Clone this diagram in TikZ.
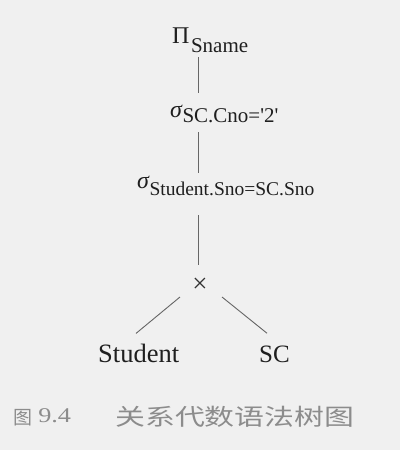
\documentclass[tikz,border=0pt]{standalone}
\usepackage{fontspec}
\setmainfont{Liberation Serif}
\newfontfamily\cjk{Noto Sans CJK SC}
\begin{document}
\begin{tikzpicture}[x=1pt,y=-1pt,
  lbl/.style={inner sep=0pt,anchor=base west,text=black!88},
  captxt/.style={inner sep=0pt,anchor=base west,text=black!45},
  conn/.style={draw=black!60,line width=0.9pt}]
\fill[black!6] (0,0) rectangle (400,450);
\useasboundingbox (0,0) rectangle (400,450);
% nodes
\node[lbl] (pi) at (172,43) {\fontsize{24}{24}\selectfont Π\kern1.5pt\raisebox{-9pt}{\fontsize{21}{21}\selectfont Sname}};
\node[lbl] (s1) at (170,117) {\fontsize{24}{24}\selectfont\itshape σ\upshape\kern0.5pt\raisebox{-5pt}{\fontsize{21}{21}\selectfont SC.Cno=\textquotesingle 2\textquotesingle}};
\node[lbl] (s2) at (137,188) {\fontsize{24}{24}\selectfont\itshape σ\upshape\kern0.5pt\raisebox{-7pt}{\fontsize{19.5}{19.5}\selectfont Student.Sno=SC.Sno}};
\node[inner sep=0pt,text=black!80] (x) at (200,285) {\fontsize{27}{27}\selectfont ×};
\node[lbl] (st) at (98,362) {\fontsize{26.5}{26.5}\selectfont Student};
\node[lbl] (sc) at (259,362) {\fontsize{25}{25}\selectfont SC};
% caption
\node[captxt] (c1) at (13,424) {\cjk\fontsize{19}{19}\selectfont 图};
\node[captxt,xscale=1.25] (c2) at (38,422) {\fontsize{21}{21}\selectfont 9.4};
\node[captxt,xscale=1.3] (c3) at (115,425) {\cjk\fontsize{23}{23}\selectfont 关系代数语法树图};
% connectors
\coordinate (cx) at (198.5,0);
\draw[conn] ([yshift=-5pt]pi.south -| cx) -- ([yshift=11pt]s1.north -| cx);
\draw[conn] ([yshift=-10pt]s1.south -| cx) -- ([yshift=2pt]s2.north -| cx);
\draw[conn] ([yshift=-20pt]s2.south -| cx) -- ([yshift=13pt]x.north -| cx);
\coordinate (bl) at (180,297);
\coordinate (br) at (222,297);
\draw[conn] (bl) -- ([xshift=38pt,yshift=10pt]st.north west);
\draw[conn] (br) -- ([xshift=8pt,yshift=12pt]sc.north west);
\end{tikzpicture}
\end{document}
